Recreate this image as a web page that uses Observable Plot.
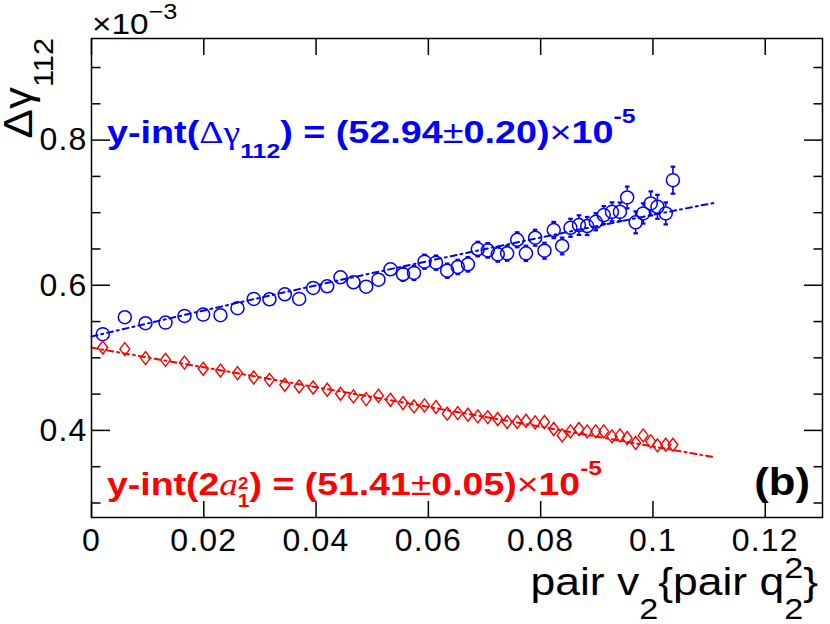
<!DOCTYPE html>
<html><head><meta charset="utf-8">
<script src="https://cdn.jsdelivr.net/npm/d3@7"></script>
<script src="https://cdn.jsdelivr.net/npm/@observablehq/plot@0.6"></script>
<style>body{margin:0;background:#fff} svg{display:block}</style>
</head><body><div id="chart"></div>
<script>
// x values (pair v2{pair q2^2}), shared by both series
const pairV2 = [0.00201,0.00593,0.00962,0.01318,0.01656,0.01989,0.02297,0.02600,0.02890,0.03170,
  0.03443,0.03699,0.03948,0.04198,0.04435,0.04666,0.04892,0.05111,0.05325,0.05548,
  0.05744,0.05931,0.06135,0.06335,0.06524,0.06705,0.06880,0.07058,0.07236,0.07403,
  0.07582,0.07738,0.07902,0.08068,0.08233,0.08383,0.08531,0.08682,0.08828,0.08981,
  0.09124,0.09270,0.09412,0.09541,0.09692,0.09826,0.09961,0.10080,0.10228,0.10356];
// Δγ112 (×10^-3), blue circles
const dGamma = [0.5326,0.5560,0.5477,0.5486,0.5578,0.5596,0.5587,0.5684,0.5812,0.5807,
  0.5876,0.5812,0.5963,0.5986,0.6110,0.6041,0.5981,0.6077,0.6220,0.6151,
  0.6169,0.6325,0.6311,0.6201,0.6252,0.6289,0.6499,0.6481,0.6426,0.6440,
  0.6627,0.6440,0.6655,0.6476,0.6761,0.6541,0.6792,0.6829,0.6816,0.6875,
  0.6967,0.7012,0.7012,0.7210,0.6867,0.6990,0.7128,0.7081,0.6990,0.7448];
const dGammaErr = [0.004,0.004,0.004,0.005,0.005,0.005,0.005,0.006,0.006,0.006,
  0.006,0.007,0.007,0.007,0.007,0.008,0.008,0.008,0.008,0.009,
  0.0095,0.0097,0.0098,0.0098,0.0099,0.0100,0.0100,0.0100,0.0101,0.0102,
  0.0103,0.0105,0.0110,0.0110,0.0112,0.0115,0.0124,0.0135,0.0125,0.0118,
  0.0124,0.0130,0.0128,0.0150,0.0151,0.0140,0.0165,0.0165,0.0151,0.0186];
// 2a1^2 (×10^-3), red diamonds
const twoA1sq = [0.5142,0.5120,0.4996,0.4972,0.4935,0.4849,0.4825,0.4790,0.4729,0.4697,
  0.4629,0.4605,0.4591,0.4560,0.4505,0.4468,0.4432,0.4477,0.4422,0.4377,
  0.4330,0.4344,0.4322,0.4230,0.4239,0.4216,0.4193,0.4184,0.4157,0.4116,
  0.4116,0.4133,0.4110,0.4116,0.4019,0.3931,0.3986,0.4019,0.3986,0.3986,
  0.3986,0.3917,0.3931,0.3895,0.3827,0.3931,0.3849,0.3794,0.3803,0.3803];
const twoA1sqErr = pairV2.map(() => 0.002);
// fit curves
const blueFitX = [0, 0.02, 0.04, 0.06, 0.08, 0.10, 0.111];
const blueFitY = [0.5294, 0.5652, 0.5999, 0.6334, 0.6658, 0.6970, 0.7136];
const redFitX = [0, 0.02, 0.04, 0.06, 0.08, 0.10, 0.111];
const redFitY = [0.5141, 0.4869, 0.4596, 0.4324, 0.4051, 0.3779, 0.3629];
// ticks
const xTicks = [0, 0.02, 0.04, 0.06, 0.08, 0.1, 0.12];
const xTickLabels = ["0", "0.02", "0.04", "0.06", "0.08", "0.1", "0.12"];
const yMajor = [0.4, 0.6, 0.8];
const yTickLabels = ["0.4", "0.6", "0.8"];
const yMinor = [0.3, 0.35, 0.45, 0.5, 0.55, 0.65, 0.7, 0.75, 0.85, 0.9];

const W = 830, H = 624, mL = 91, mR = 8, mT = 38, mB = 107;
const xDomain = [0, 0.1302], yDomain = [0.28, 0.94];
const BLUE = "#0000ff", RED = "#ff0000";
const R = 6.5;
const rData = R * (yDomain[1] - yDomain[0]) / (H - mT - mB);

const blue = pairV2.map((x, i) => ({x, y: dGamma[i], e: dGammaErr[i]}));
const red = pairV2.map((x, i) => ({x, y: twoA1sq[i], e: twoA1sqErr[i]}));
function segs(rows) {
  const out = [];
  for (const d of rows) if (d.e > rData) {
    out.push({x: d.x, y1: d.y + rData, y2: d.y + d.e});
    out.push({x: d.x, y1: d.y - d.e, y2: d.y - rData});
  }
  return out;
}
function caps(rows) {
  const out = [];
  for (const d of rows) if (d.e > rData) { out.push({x: d.x, y: d.y + d.e}); out.push({x: d.x, y: d.y - d.e}); }
  return out;
}
const blueFit = blueFitX.map((x, i) => ({x, y: blueFitY[i]}));
const redFit = redFitX.map((x, i) => ({x, y: redFitY[i]}));

const hbar = {draw(ctx, size) { const w = Math.sqrt(size / Math.PI); ctx.moveTo(-w, 0); ctx.lineTo(w, 0); }};
const diamond = {draw(ctx, size) { const h = Math.sqrt(size / Math.PI), w = h * 0.76;
  ctx.moveTo(0, -h); ctx.lineTo(w, 0); ctx.lineTo(0, h); ctx.lineTo(-w, 0); ctx.closePath(); }};

const tickOpts = {tickFormat: () => "", label: null, strokeWidth: 1.5, stroke: "black"};
const svg = Plot.plot({
  width: W, height: H,
  marginLeft: mL, marginRight: mR, marginTop: mT, marginBottom: mB,
  style: {fontFamily: "Liberation Sans", background: "white"},
  x: {domain: xDomain, axis: null},
  y: {domain: yDomain, axis: null},
  marks: [
    Plot.line(blueFit, {x: "x", y: "y", stroke: BLUE, strokeWidth: 2, strokeDasharray: "6,4,2,4", curve: "natural"}),
    Plot.line(redFit, {x: "x", y: "y", stroke: RED, strokeWidth: 2, strokeDasharray: "6,4,2,4", curve: "natural"}),
    Plot.ruleX(segs(blue), {x: "x", y1: "y1", y2: "y2", stroke: BLUE, strokeWidth: 1.6}),
    Plot.dot(caps(blue), {x: "x", y: "y", r: 2.3, symbol: hbar, stroke: BLUE, strokeWidth: 2.2, fill: "none"}),
    Plot.ruleX(segs(red), {x: "x", y1: "y1", y2: "y2", stroke: RED, strokeWidth: 1.6}),
    Plot.dot(blue, {x: "x", y: "y", r: R, stroke: BLUE, strokeWidth: 1.5, fill: "none"}),
    Plot.dot(red, {x: "x", y: "y", r: 6.5, symbol: diamond, stroke: RED, strokeWidth: 1.4, fill: "none"}),
    Plot.axisX(xTicks, {anchor: "bottom", tickSize: -16, ...tickOpts}),
    Plot.axisX(xTicks, {anchor: "top", tickSize: -16, ...tickOpts}),
    Plot.axisY(yMajor, {anchor: "left", tickSize: -19, ...tickOpts}),
    Plot.axisY(yMinor, {anchor: "left", tickSize: -9.5, ...tickOpts}),
    Plot.axisY(yMajor, {anchor: "right", tickSize: -19, ...tickOpts}),
    Plot.axisY(yMinor, {anchor: "right", tickSize: -9.5, ...tickOpts}),
    Plot.axisX(xTicks, {anchor: "bottom", tickSize: 0, tickPadding: 11, label: null, fontSize: 32, fill: "black",
      tickFormat: d => xTickLabels[xTicks.indexOf(d)]}),
    Plot.axisY(yMajor, {anchor: "left", tickSize: 0, tickPadding: 4, label: null, fontSize: 32, fill: "black",
      tickFormat: d => yTickLabels[yMajor.indexOf(d)]}),
    Plot.frame({stroke: "black", strokeWidth: 1.5})
  ]
});
d3.select(svg).selectAll("g[aria-label$='tick label'] text").style("letter-spacing", "1.2px");

function rich(x, y, sx, opts, parts, extra) {
  const t = d3.select(svg).append("text")
    .attr("x", 0).attr("y", 0)
    .attr("transform", `translate(${x},${y}) ${extra || ""} scale(${sx},1)`)
    .attr("font-family", opts.family || "Liberation Sans")
    .attr("font-size", opts.size)
    .attr("font-weight", opts.weight || "normal")
    .attr("fill", opts.fill || "black")
    .attr("text-anchor", opts.anchor || "start");
  for (const p of parts) {
    const s = t.append("tspan").text(p.t);
    if (p.size) s.attr("font-size", p.size);
    if (p.weight) s.attr("font-weight", p.weight);
    if (p.family) s.attr("font-family", p.family);
    if (p.style) s.attr("font-style", p.style);
    if (p.dx) s.attr("dx", p.dx);
    if (p.dy) s.attr("dy", p.dy);
  }
  return t;
}

// ×10^-3 exponent
rich(92, 34, 1.15, {size: 29}, [{t: "×10"}, {t: "−3", size: 22, dy: -15}]);
// y-axis title
rich(32, 38, 1.1, {size: 40, anchor: "end"}, [{t: "Δγ"}, {t: "112", size: 28, dy: 21}], "rotate(-90)");
// x-axis title
rich(818, 595, 1.14, {size: 39, anchor: "end"}, [
  {t: "pair v"}, {t: "2", size: 30, dy: 24}, {t: "{pair q", dy: -24},
  {t: "2", size: 30, dy: -17}, {t: "2", size: 30, dx: -16.7, dy: 41}, {t: "}", dy: -24}
]);
// blue annotation
rich(107, 143, 1.18, {size: 32, weight: "bold", fill: BLUE}, [
  {t: "y-int("}, {t: "Δγ", weight: "normal", family: "Liberation Serif"},
  {t: "112", size: 21, dy: 15}, {t: ") = (52.94", dy: -15},
  {t: "±", weight: "normal"}, {t: "0.20)"}, {t: "×", weight: "normal"}, {t: "10"},
  {t: "-5", size: 21, dy: -20}
]);
// red annotation
rich(107, 495, 1.17, {size: 32, weight: "bold", fill: RED}, [
  {t: "y-int(2"}, {t: "a", weight: "normal", style: "italic", family: "Liberation Serif"},
  {t: "2", size: 16, dy: -6}, {t: "1", size: 18, dx: -9, dy: 18},
  {t: ") = (51.41", dy: -12}, {t: "±", weight: "normal"}, {t: "0.05)"},
  {t: "×", weight: "normal"}, {t: "10"}, {t: "-5", size: 21, dy: -20}
]);
// panel label
rich(810, 495, 1.12, {size: 39, weight: "bold", anchor: "end"}, [{t: "(b)"}]);

document.getElementById("chart").appendChild(svg);
</script>
</body></html>
